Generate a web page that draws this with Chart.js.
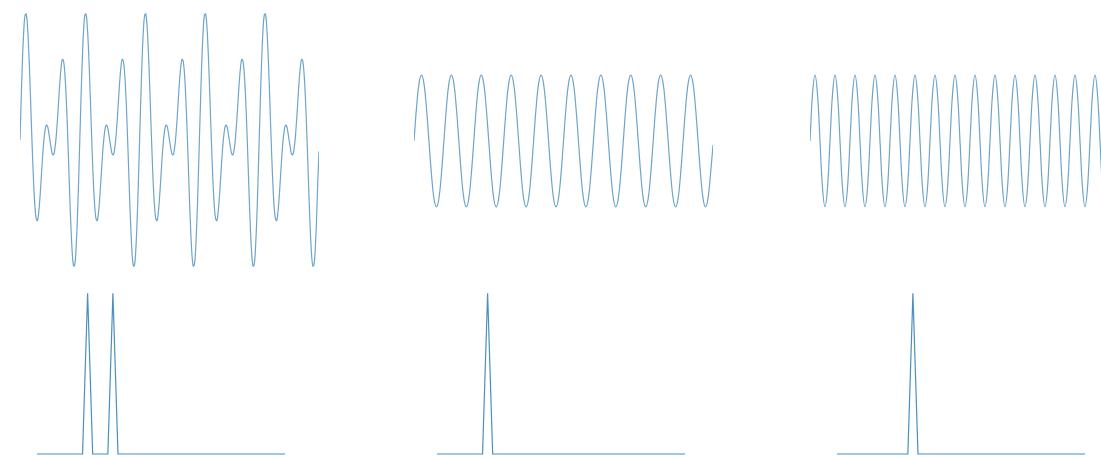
<!DOCTYPE html>
<html>
<head>
<meta charset="utf-8">
<script src="https://cdn.jsdelivr.net/npm/chart.js@4"></script>
<style>
  html, body { margin: 0; padding: 0; background: #fff; width: 1101px; height: 458px; overflow: hidden; }
  .panel { position: absolute; }
</style>
</head>
<body>
<div class="panel" style="left:20px;top:0;width:299px;height:280px"><canvas id="sigBoth"></canvas></div>
<div class="panel" style="left:414px;top:0;width:299px;height:282px"><canvas id="sig10"></canvas></div>
<div class="panel" style="left:810px;top:0;width:300px;height:282px"><canvas id="sig15"></canvas></div>
<div class="panel" style="left:37px;top:280px;width:248px;height:178px"><canvas id="fftBoth"></canvas></div>
<div class="panel" style="left:437px;top:280px;width:248px;height:178px"><canvas id="fft10"></canvas></div>
<div class="panel" style="left:837px;top:280px;width:248px;height:178px"><canvas id="fft15"></canvas></div>
<script>
// sinal 10 Hz + 15 Hz (240 amostras em 1 s)
const waveBoth = [
  0, 0.64, 1.21, 1.63, 1.87, 1.89, 1.71, 1.35, 0.87, 0.32, -0.21, -0.67, -1, -1.18, -1.21, -1.09, -0.87, -0.58, -0.29, -0.04, 0.13, 0.22, 0.21, 0.12,
  0, -0.12, -0.21, -0.22, -0.13, 0.04, 0.29, 0.58, 0.87, 1.09, 1.21, 1.18, 1, 0.67, 0.21, -0.32, -0.87, -1.35, -1.71, -1.89, -1.87, -1.63, -1.21, -0.64,
  0, 0.64, 1.21, 1.63, 1.87, 1.89, 1.71, 1.35, 0.87, 0.32, -0.21, -0.67, -1, -1.18, -1.21, -1.09, -0.87, -0.58, -0.29, -0.04, 0.13, 0.22, 0.21, 0.12,
  0, -0.12, -0.21, -0.22, -0.13, 0.04, 0.29, 0.58, 0.87, 1.09, 1.21, 1.18, 1, 0.67, 0.21, -0.32, -0.87, -1.35, -1.71, -1.89, -1.87, -1.63, -1.21, -0.64,
  0, 0.64, 1.21, 1.63, 1.87, 1.89, 1.71, 1.35, 0.87, 0.32, -0.21, -0.67, -1, -1.18, -1.21, -1.09, -0.87, -0.58, -0.29, -0.04, 0.13, 0.22, 0.21, 0.12,
  0, -0.12, -0.21, -0.22, -0.13, 0.04, 0.29, 0.58, 0.87, 1.09, 1.21, 1.18, 1, 0.67, 0.21, -0.32, -0.87, -1.35, -1.71, -1.89, -1.87, -1.63, -1.21, -0.64,
  0, 0.64, 1.21, 1.63, 1.87, 1.89, 1.71, 1.35, 0.87, 0.32, -0.21, -0.67, -1, -1.18, -1.21, -1.09, -0.87, -0.58, -0.29, -0.04, 0.13, 0.22, 0.21, 0.12,
  0, -0.12, -0.21, -0.22, -0.13, 0.04, 0.29, 0.58, 0.87, 1.09, 1.21, 1.18, 1, 0.67, 0.21, -0.32, -0.87, -1.35, -1.71, -1.89, -1.87, -1.63, -1.21, -0.64,
  0, 0.64, 1.21, 1.63, 1.87, 1.89, 1.71, 1.35, 0.87, 0.32, -0.21, -0.67, -1, -1.18, -1.21, -1.09, -0.87, -0.58, -0.29, -0.04, 0.13, 0.22, 0.21, 0.12,
  0, -0.12, -0.21, -0.22, -0.13, 0.04, 0.29, 0.58, 0.87, 1.09, 1.21, 1.18, 1, 0.67, 0.21, -0.32, -0.87, -1.35, -1.71, -1.89, -1.87, -1.63, -1.21, -0.64,
  -0.17
];

// seno de 10 Hz (120 amostras em 1 s)
const wave10 = [
  0, 0.5, 0.87, 1, 0.87, 0.5, 0, -0.5, -0.87, -1, -0.87, -0.5,
  0, 0.5, 0.87, 1, 0.87, 0.5, 0, -0.5, -0.87, -1, -0.87, -0.5,
  0, 0.5, 0.87, 1, 0.87, 0.5, 0, -0.5, -0.87, -1, -0.87, -0.5,
  0, 0.5, 0.87, 1, 0.87, 0.5, 0, -0.5, -0.87, -1, -0.87, -0.5,
  0, 0.5, 0.87, 1, 0.87, 0.5, 0, -0.5, -0.87, -1, -0.87, -0.5,
  0, 0.5, 0.87, 1, 0.87, 0.5, 0, -0.5, -0.87, -1, -0.87, -0.5,
  0, 0.5, 0.87, 1, 0.87, 0.5, 0, -0.5, -0.87, -1, -0.87, -0.5,
  0, 0.5, 0.87, 1, 0.87, 0.5, 0, -0.5, -0.87, -1, -0.87, -0.5,
  0, 0.5, 0.87, 1, 0.87, 0.5, 0, -0.5, -0.87, -1, -0.87, -0.5,
  0, 0.5, 0.87, 1, 0.87, 0.5, 0, -0.5, -0.87, -1, -0.87, -0.5,
  -0.06
];

// seno de 15 Hz (120 amostras em 1 s)
const wave15 = [
  0, 0.71, 1, 0.71, 0, -0.71, -1, -0.71, 0, 0.71, 1, 0.71, 0, -0.71, -1, -0.71,
  0, 0.71, 1, 0.71, 0, -0.71, -1, -0.71, 0, 0.71, 1, 0.71, 0, -0.71, -1, -0.71,
  0, 0.71, 1, 0.71, 0, -0.71, -1, -0.71, 0, 0.71, 1, 0.71, 0, -0.71, -1, -0.71,
  0, 0.71, 1, 0.71, 0, -0.71, -1, -0.71, 0, 0.71, 1, 0.71, 0, -0.71, -1, -0.71,
  0, 0.71, 1, 0.71, 0, -0.71, -1, -0.71, 0, 0.71, 1, 0.71, 0, -0.71, -1, -0.71,
  0, 0.71, 1, 0.71, 0, -0.71, -1, -0.71, 0, 0.71, 1, 0.71, 0, -0.71, -1, -0.71,
  0, 0.71, 1, 0.71, 0, -0.71, -1, -0.71, 0, 0.71, 1, 0.71, 0, -0.71, -1, -0.71,
  0, 0.71, 1, 0.71, 0, -0.71, -1, -0.71,
  0
];

// espectros, bins de 0 a 49 Hz
const specBoth = [
  0, 0, 0, 0, 0, 0, 0, 0, 0, 0, 1, 0, 0, 0, 0, 1, 0, 0, 0, 0, 0, 0, 0, 0, 0,
  0, 0, 0, 0, 0, 0, 0, 0, 0, 0, 0, 0, 0, 0, 0, 0, 0, 0, 0, 0, 0, 0, 0, 0, 0
];
const spec10 = [
  0, 0, 0, 0, 0, 0, 0, 0, 0, 0, 1, 0, 0, 0, 0, 0, 0, 0, 0, 0, 0, 0, 0, 0, 0,
  0, 0, 0, 0, 0, 0, 0, 0, 0, 0, 0, 0, 0, 0, 0, 0, 0, 0, 0, 0, 0, 0, 0, 0, 0
];
const spec15 = [
  0, 0, 0, 0, 0, 0, 0, 0, 0, 0, 0, 0, 0, 0, 0, 1, 0, 0, 0, 0, 0, 0, 0, 0, 0,
  0, 0, 0, 0, 0, 0, 0, 0, 0, 0, 0, 0, 0, 0, 0, 0, 0, 0, 0, 0, 0, 0, 0, 0, 0
];

function drawLine(id, values, yMin, yMax, color, tension) {
  new Chart(document.getElementById(id), {
    type: 'line',
    data: {
      labels: values.map((_, i) => i),
      datasets: [{
        data: values,
        borderColor: color,
        borderWidth: 1.2,
        pointRadius: 0,
        tension: tension,
        fill: false,
        clip: false
      }]
    },
    options: {
      responsive: true,
      maintainAspectRatio: false,
      animation: false,
      layout: { padding: 0 },
      plugins: { legend: { display: false }, tooltip: { enabled: false } },
      scales: {
        x: { display: false, offset: false },
        y: { display: false, min: yMin, max: yMax }
      }
    }
  });
}

drawLine('sigBoth', waveBoth, -2.1, 2.1, '#6ea5c9', 0.4);
drawLine('sig10', wave10, -2.14, 2.14, '#6ea5c9', 0.4);
drawLine('sig15', wave15, -2.14, 2.14, '#6ea5c9', 0.4);
drawLine('fftBoth', specBoth, -0.025, 1.083, '#4b8fbc', 0);
drawLine('fft10', spec10, -0.025, 1.083, '#4b8fbc', 0);
drawLine('fft15', spec15, -0.025, 1.083, '#4b8fbc', 0);
</script>
</body>
</html>
